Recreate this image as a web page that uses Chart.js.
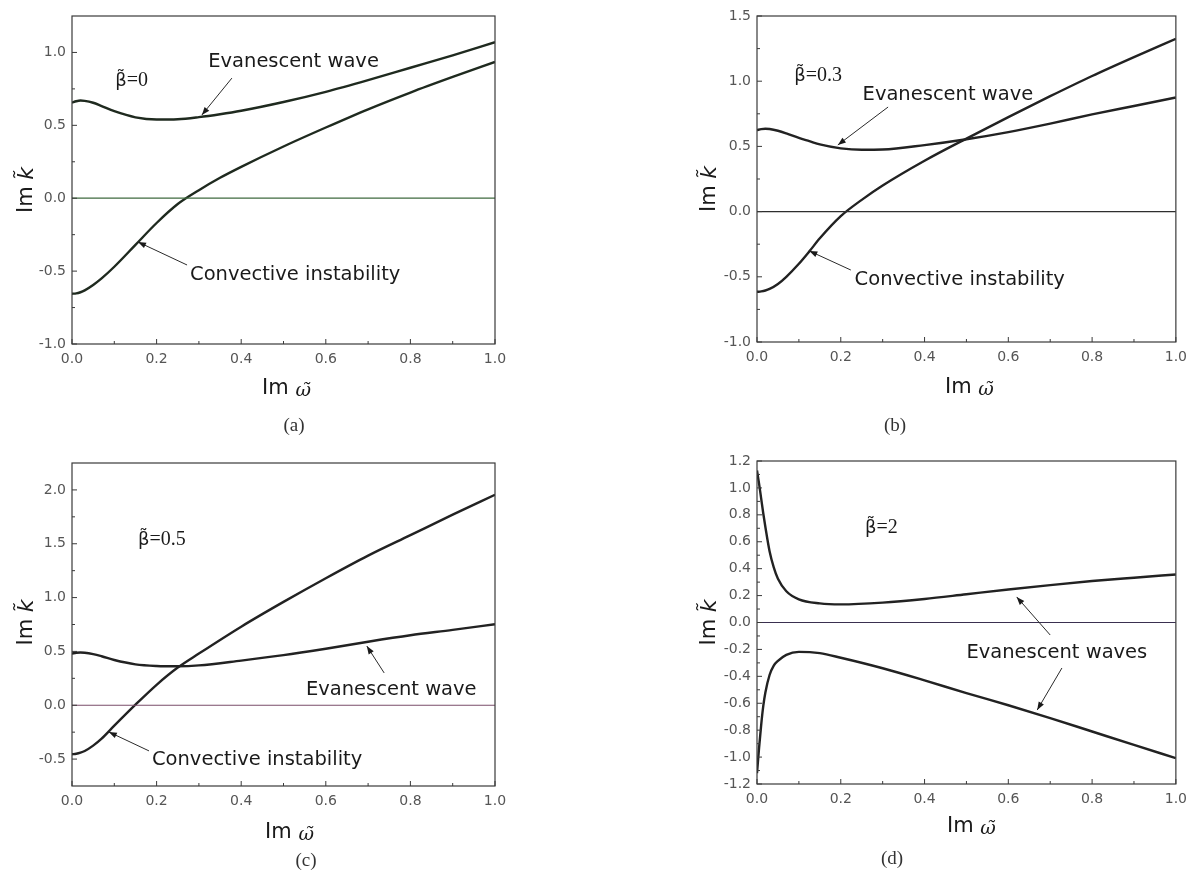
<!DOCTYPE html>
<html><head><meta charset="utf-8">
<script src="https://cdn.jsdelivr.net/npm/chart.js@4.4.1/dist/chart.umd.min.js"></script>
<style>
html,body{margin:0;padding:0;background:#fff;}
#wrap{position:relative;width:1194px;height:871px;background:#fff;overflow:hidden;}
canvas{position:absolute;}
</style></head><body>
<div id="wrap">
<canvas id="ca" width="597" height="435" style="left:0;top:0"></canvas>
<canvas id="cb" width="597" height="435" style="left:597px;top:0"></canvas>
<canvas id="cc" width="597" height="436" style="left:0;top:435px"></canvas>
<canvas id="cd" width="597" height="436" style="left:597px;top:435px"></canvas>
</div>
<script>
// ---------- data ----------
const xTickValues = [0, 0.2, 0.4, 0.6, 0.8, 1.0];
const zeroLineX = [0, 1];
const zeroLineY = [0, 0];

// (a) beta = 0
const aX = [0, 0.01, 0.02, 0.03, 0.05, 0.07, 0.1, 0.15, 0.2, 0.25, 0.3, 0.35, 0.4, 0.5, 0.6, 0.7, 0.8, 0.9, 1.0];
const aEvanescent = [0.655, 0.665, 0.67, 0.668, 0.655, 0.632, 0.597, 0.555, 0.54, 0.542, 0.556, 0.576, 0.60, 0.66, 0.73, 0.81, 0.895, 0.98, 1.07];
const aConvective = [-0.655, -0.653, -0.645, -0.632, -0.595, -0.55, -0.47, -0.32, -0.17, -0.04, 0.055, 0.14, 0.215, 0.355, 0.485, 0.61, 0.725, 0.832, 0.935];
const aYTicks = [-1.0, -0.5, 0.0, 0.5, 1.0];

// (b) beta = 0.3
const bX = [0, 0.01, 0.02, 0.03, 0.05, 0.07, 0.1, 0.125, 0.15, 0.2, 0.25, 0.3, 0.4, 0.5, 0.6, 0.7, 0.8, 0.9, 1.0];
const bEvanescent = [0.625, 0.632, 0.635, 0.633, 0.62, 0.6, 0.565, 0.54, 0.515, 0.485, 0.474, 0.476, 0.51, 0.555, 0.61, 0.675, 0.745, 0.81, 0.875];
const bConvective = [-0.615, -0.612, -0.605, -0.593, -0.555, -0.5, -0.4, -0.305, -0.205, -0.035, 0.09, 0.2, 0.39, 0.56, 0.725, 0.885, 1.04, 1.185, 1.325];
const bYTicks = [-1.0, -0.5, 0.0, 0.5, 1.0, 1.5];

// (c) beta = 0.5
const cX = [0, 0.01, 0.02, 0.03, 0.05, 0.07, 0.1, 0.15, 0.2, 0.25, 0.3, 0.4, 0.5, 0.6, 0.7, 0.8, 0.9, 1.0];
const cEvanescent = [0.48, 0.488, 0.49, 0.488, 0.475, 0.455, 0.42, 0.38, 0.365, 0.362, 0.37, 0.415, 0.465, 0.525, 0.59, 0.65, 0.70, 0.753];
const cConvective = [-0.455, -0.45, -0.44, -0.425, -0.375, -0.31, -0.19, 0.005, 0.19, 0.35, 0.48, 0.73, 0.96, 1.18, 1.39, 1.58, 1.77, 1.955];
const cYTicks = [-0.5, 0.0, 0.5, 1.0, 1.5, 2.0];

// (d) beta = 2
const dX = [0, 0.005, 0.01, 0.015, 0.02, 0.03, 0.04, 0.05, 0.07, 0.1, 0.15, 0.2, 0.3, 0.4, 0.5, 0.6, 0.7, 0.8, 0.9, 1.0];
const dUpper = [1.13, 1.03, 0.92, 0.81, 0.71, 0.53, 0.41, 0.325, 0.232, 0.172, 0.142, 0.135, 0.148, 0.175, 0.21, 0.245, 0.278, 0.308, 0.333, 0.357];
const dLower = [-1.12, -0.93, -0.76, -0.62, -0.52, -0.39, -0.32, -0.285, -0.24, -0.218, -0.228, -0.262, -0.34, -0.43, -0.525, -0.615, -0.71, -0.81, -0.91, -1.008];
const dYTicks = [-1.2, -1.0, -0.8, -0.6, -0.4, -0.2, 0.0, 0.2, 0.4, 0.6, 0.8, 1.0, 1.2];

// ---------- helpers ----------
const SANS = '"DejaVu Sans", sans-serif';
const SERIF = '"DejaVu Serif", serif';
const LSERIF = '"Liberation Serif", serif';
const zip = (xs, ys) => xs.map((x, i) => ({x: x, y: ys[i]}));

function drawParts(ctx, parts, cx, cy) {
  let total = 0;
  parts.forEach(p => { ctx.font = p.font; p.w = ctx.measureText(p.t).width; total += p.w; });
  let x = cx - total / 2;
  ctx.textBaseline = 'middle';
  ctx.textAlign = 'left';
  parts.forEach(p => { ctx.font = p.font; ctx.fillText(p.t, x, cy + (p.dy || 0)); x += p.w; });
}

function arrow(ctx, x1, y1, x2, y2) {
  ctx.beginPath(); ctx.moveTo(x1, y1); ctx.lineTo(x2, y2); ctx.stroke();
  const ang = Math.atan2(y2 - y1, x2 - x1), L = 8, W = 3;
  ctx.beginPath();
  ctx.moveTo(x2, y2);
  ctx.lineTo(x2 - L * Math.cos(ang) + W * Math.sin(ang), y2 - L * Math.sin(ang) - W * Math.cos(ang));
  ctx.lineTo(x2 - L * Math.cos(ang) - W * Math.sin(ang), y2 - L * Math.sin(ang) + W * Math.cos(ang));
  ctx.closePath(); ctx.fill();
}

const framePlugin = {
  id: 'frame',
  afterDatasetsDraw(chart) {
    const sp = chart.options.plugins.frame;
    const {ctx, chartArea: a, scales} = chart;
    const sx = scales.x, sy = scales.y;
    ctx.save();
    // frame
    ctx.strokeStyle = '#3a3a3a'; ctx.lineWidth = 1.2;
    ctx.strokeRect(a.left, a.top, a.right - a.left, a.bottom - a.top);
    // inward ticks
    ctx.lineWidth = 1;
    ctx.beginPath();
    const xt = sx.ticks.map(t => t.value);
    xt.forEach((v, i) => {
      const p = sx.getPixelForValue(v);
      ctx.moveTo(p, a.bottom); ctx.lineTo(p, a.bottom - 5);
      if (i < xt.length - 1) {
        const m = sx.getPixelForValue((v + xt[i + 1]) / 2);
        ctx.moveTo(m, a.bottom); ctx.lineTo(m, a.bottom - 3);
      }
    });
    const yt = sy.ticks.map(t => t.value);
    yt.forEach((v, i) => {
      const p = sy.getPixelForValue(v);
      ctx.moveTo(a.left, p); ctx.lineTo(a.left + 5, p);
      if (i < yt.length - 1) {
        const m = sy.getPixelForValue((v + yt[i + 1]) / 2);
        ctx.moveTo(a.left, m); ctx.lineTo(a.left + 3, m);
      }
    });
    ctx.stroke();

    // annotations
    ctx.fillStyle = '#1a1a1a';
    ctx.strokeStyle = '#2a2a2a';
    ctx.textBaseline = 'alphabetic';
    ctx.textAlign = 'left';
    sp.texts.forEach(t => {
      let x = sx.getPixelForValue(t.x);
      const y = sy.getPixelForValue(t.y);
      t.parts.forEach(p => {
        ctx.font = p.font;
        ctx.fillText(p.t, x, y);
        x += ctx.measureText(p.t).width;
      });
    });
    ctx.lineWidth = 1;
    sp.arrows.forEach(r => {
      arrow(ctx, sx.getPixelForValue(r[0]), sy.getPixelForValue(r[1]),
                 sx.getPixelForValue(r[2]), sy.getPixelForValue(r[3]));
    });

    // axis titles
    ctx.fillStyle = '#1a1a1a';
    ctx.save();
    ctx.translate(a.left - sp.yTitleDx, (a.top + a.bottom) / 2 + sp.yTitleDy);
    ctx.rotate(-Math.PI / 2);
    drawParts(ctx, [{t: 'Im ', font: '21px ' + SANS}, {t: 'k\u0303', font: 'oblique 22px ' + SANS}], 0, 0);
    ctx.restore();
    drawParts(ctx, [{t: 'Im ', font: '21px ' + SANS}, {t: '\u03c9\u0303', font: 'italic 19px ' + SERIF, dy: 2}],
      (a.left + a.right) / 2 + sp.xTitleDx, a.bottom + sp.xTitleDy);
    // panel label
    ctx.fillStyle = '#333';
    drawParts(ctx, [{t: sp.label, font: '19px ' + LSERIF}], sp.labelX, sp.labelY);
    ctx.restore();
  }
};

function makePanel(id, spec) {
  const canvas = document.getElementById(id);
  const W = canvas.width, H = canvas.height;
  const datasets = [
    {data: zip(zeroLineX, zeroLineY), borderColor: spec.zeroColor, borderWidth: 1.2, pointRadius: 0}
  ];
  spec.series.forEach(s => datasets.push({
    data: zip(spec.x, s), borderColor: spec.curveColor, borderWidth: 2.4, pointRadius: 0,
    cubicInterpolationMode: 'monotone'
  }));
  const tickFont = {family: '"DejaVu Sans", sans-serif', size: 14};
  return new Chart(canvas.getContext('2d'), {
    type: 'line',
    data: {datasets: datasets},
    options: {
      responsive: false, animation: false, devicePixelRatio: 1,
      layout: {padding: {left: 0, top: spec.area.top, right: W - spec.area.right, bottom: 0}},
      plugins: {legend: {display: false}, tooltip: {enabled: false}, frame: spec.frame},
      scales: {
        x: {
          type: 'linear', min: 0, max: 1,
          afterBuildTicks: s => { s.ticks = xTickValues.map(v => ({value: v})); },
          afterFit: s => { s.height = H - spec.area.bottom; },
          grid: {display: false, drawTicks: false}, border: {display: false},
          ticks: {padding: 7, font: tickFont, color: '#555', maxRotation: 0, callback: v => Number(v).toFixed(1)}
        },
        y: {
          type: 'linear', min: spec.yMin, max: spec.yMax,
          afterBuildTicks: s => { s.ticks = spec.yTicks.map(v => ({value: v})); },
          afterFit: s => { s.width = spec.area.left; },
          grid: {display: false, drawTicks: false}, border: {display: false},
          ticks: {padding: 6, font: tickFont, color: '#555', callback: v => Number(v).toFixed(1)}
        }
      }
    },
    plugins: [framePlugin]
  });
}

const noteFont = '19.5px ' + SANS;
const betaGreek = '18px ' + SANS;
const betaRest = '20px ' + LSERIF;
const betaLabel = rest => [{t: '\u03b2\u0303', font: betaGreek}, {t: rest, font: betaRest}];

makePanel('ca', {
  x: aX, series: [aEvanescent, aConvective], yMin: -1.0, yMax: 1.25, yTicks: aYTicks,
  area: {left: 72, right: 495, top: 16, bottom: 344},
  zeroColor: '#3f6a3f', curveColor: '#1f2a1f',
  frame: {
    label: '(a)', labelX: 294, labelY: 426, yTitleDx: 45, yTitleDy: 10, xTitleDx: 3, xTitleDy: 45,
    texts: [
      {parts: betaLabel('=0'), x: 0.102, y: 0.77},
      {parts: [{t: 'Evanescent wave', font: noteFont}], x: 0.322, y: 0.90},
      {parts: [{t: 'Convective instability', font: noteFont}], x: 0.279, y: -0.561}
    ],
    arrows: [[0.378, 0.824, 0.307, 0.571], [0.272, -0.458, 0.156, -0.30]]
  }
});

makePanel('cb', {
  x: bX, series: [bEvanescent, bConvective], yMin: -1.0, yMax: 1.5, yTicks: bYTicks,
  area: {left: 160, right: 585, top: 16, bottom: 342},
  zeroColor: '#2e2e2e', curveColor: '#222',
  frame: {
    label: '(b)', labelX: 298, labelY: 426, yTitleDx: 47, yTitleDy: 10, xTitleDx: 3, xTitleDy: 46,
    texts: [
      {parts: betaLabel('=0.3'), x: 0.089, y: 1.0},
      {parts: [{t: 'Evanescent wave', font: noteFont}], x: 0.252, y: 0.856},
      {parts: [{t: 'Convective instability', font: noteFont}], x: 0.233, y: -0.563}
    ],
    arrows: [[0.313, 0.802, 0.193, 0.511], [0.224, -0.448, 0.125, -0.302]]
  }
});

makePanel('cc', {
  x: cX, series: [cEvanescent, cConvective], yMin: -0.75, yMax: 2.25, yTicks: cYTicks,
  area: {left: 72, right: 495, top: 28, bottom: 351},
  zeroColor: '#7a4d6a', curveColor: '#222',
  frame: {
    label: '(c)', labelX: 306, labelY: 426, yTitleDx: 45, yTitleDy: -2, xTitleDx: 6, xTitleDy: 47,
    texts: [
      {parts: betaLabel('=0.5'), x: 0.156, y: 1.49},
      {parts: [{t: 'Evanescent wave', font: noteFont}], x: 0.553, y: 0.096},
      {parts: [{t: 'Convective instability', font: noteFont}], x: 0.189, y: -0.554}
    ],
    arrows: [[0.738, 0.30, 0.697, 0.55], [0.182, -0.424, 0.087, -0.248]]
  }
});

makePanel('cd', {
  x: dX, series: [dUpper, dLower], yMin: -1.2, yMax: 1.2, yTicks: dYTicks,
  area: {left: 160, right: 586, top: 26, bottom: 349},
  zeroColor: '#3a3050', curveColor: '#222',
  frame: {
    label: '(d)', labelX: 295, labelY: 424, yTitleDx: 47, yTitleDy: 0, xTitleDx: 5, xTitleDy: 43,
    texts: [
      {parts: betaLabel('=2'), x: 0.258, y: 0.665},
      {parts: [{t: 'Evanescent waves', font: noteFont}], x: 0.50, y: -0.264}
    ],
    arrows: [[0.70, -0.093, 0.62, 0.19], [0.728, -0.338, 0.669, -0.65]]
  }
});
</script>
</body></html>
